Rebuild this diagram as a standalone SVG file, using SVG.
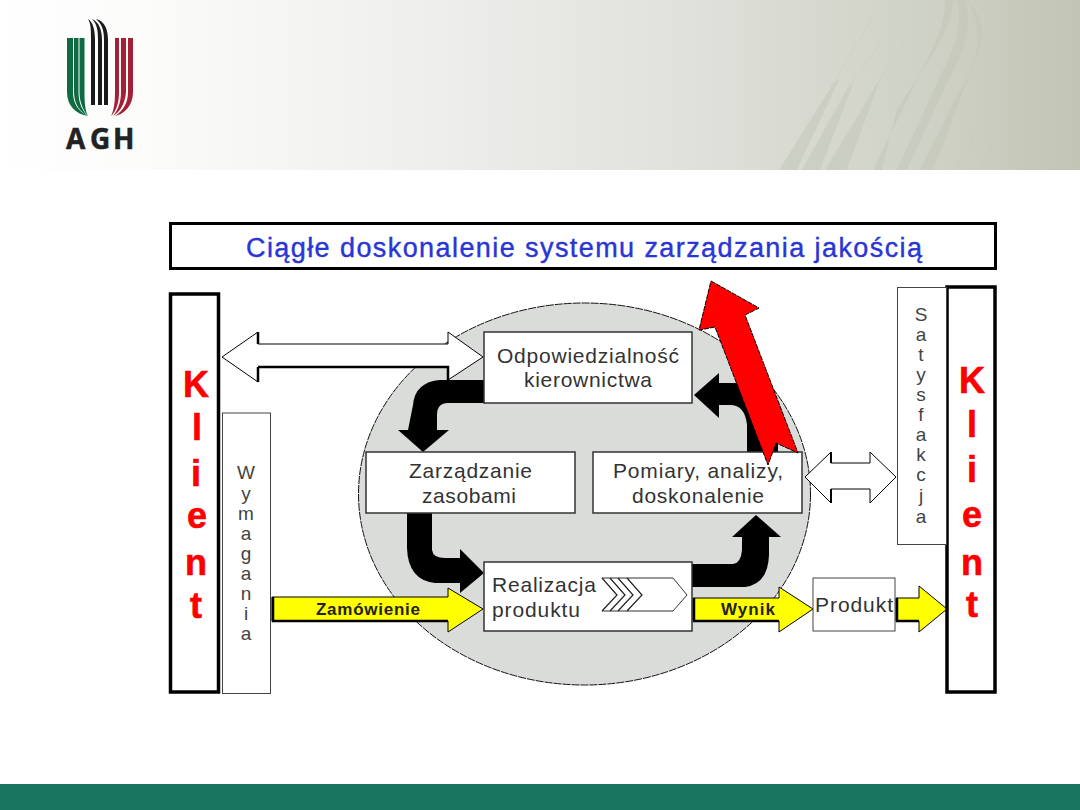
<svg xmlns="http://www.w3.org/2000/svg" width="1080" height="810" viewBox="0 0 1080 810">
<defs>
<linearGradient id="hdr" x1="0" x2="1" y1="0" y2="0"><stop offset="0" stop-color="#ffffff"/><stop offset="0.14" stop-color="#fbfbfa"/><stop offset="0.4" stop-color="#eeefec"/><stop offset="0.65" stop-color="#dfe0da"/><stop offset="0.85" stop-color="#cfd2c6"/><stop offset="1" stop-color="#c2c5b4"/></linearGradient>
</defs>
<style>
text{font-family:"Liberation Sans",Arial,sans-serif}
.box{fill:#fff;stroke:#333;stroke-width:1.5}
.thin{fill:#fff;stroke:#444;stroke-width:1}
.heavy{fill:#fff;stroke:#000;stroke-width:3.500}
.t{font-size:21px;fill:#333;text-anchor:start}
.k{font-size:36px;font-weight:700;fill:#f00;stroke:#f00;stroke-width:0.6;text-anchor:middle}
.v{font-size:19px;fill:#444;text-anchor:middle}
.y{fill:#ff0;stroke:#000;stroke-width:1}
.yb{fill:none;stroke:#000;stroke-width:2.500}
.w{fill:#fff;stroke:#000;stroke-width:1}
.bh{fill:#000}
.l{font-size:17px;font-weight:700;fill:#222;text-anchor:start}
.green{fill:#0f6b42}.black{fill:#1a1a1a}.red{fill:#a51f36}
.sw{fill:#c3c6ba;opacity:.55}
.sl{fill:none;stroke:#c3c6ba;stroke-width:1}
</style>
<rect width="1080" height="170" fill="url(#hdr)"/>
<g id="swoosh" transform="translate(700 0) scale(0.3333)">
<path class="sw" d="M520 510L680 180C720 110 735 50 735 0H760C755 60 730 110 700 160L590 330 L545 510Z"/>
<path class="sw" d="M590 510L720 230C770 140 790 60 770 0H795C815 60 800 140 760 210L620 510Z"/>
<path class="sw" d="M660 510L760 310C820 210 870 110 800 0C850 50 860 110 825 180L700 510Z"/>
<path class="sw" d="M237 510L400 250L420 235L290 510Z"/>
<path class="sw" d="M305 510L440 270L460 250L360 510Z"/>
<path class="sw" d="M375 510L520 270L540 240L440 510Z"/>
<path class="sl" d="M400 250L520 50M440 270L550 120M520 270L610 130M770 510L875 310M840 510L940 320M905 510L990 350"/>
</g>
<g id="logo">
<path class="green" d="M67 38H73V92C73 104 79 112 88 116C76 114 67 106 67 92Z"/>
<path class="green" d="M74 38H78.500V92C78.500 102 82 111 88 116C80 112 74 104 74 92Z"/>
<path class="green" d="M79.500 38H84.500V92C84.500 102 85 110 88 116C83 110 79.500 102 79.500 92Z"/>
<path class="black" d="M88 19C93 22 95 30 95 40V105H91V40C91 30 91 24 88 19Z"/>
<path class="black" d="M92 19C99 22 102 30 102 40V105H98V40C98 30 97 24 92 19Z"/>
<path class="black" d="M96 19C105 21 108 30 108 40V105H104V40C104 30 102 24 96 19Z"/>
<path class="red" d="M115 38H119V92C119 102 117 110 111 116C114 110 115 102 115 92Z"/>
<path class="red" d="M121 38H126V92C125 104 120 112 113 116C118 110 121 102 121 92Z"/>
<path class="red" d="M128 38H133V92C133 106 124 114 115 116C124 110 128 102 128 92Z"/>
<text y="149" font-size="28" font-weight="700" fill="#222" stroke="#222" stroke-width="0.5" style="font-family:'Open Sans','Liberation Sans',sans-serif"><tspan x="66">A</tspan><tspan x="90">G</tspan><tspan x="113">H</tspan></text>
</g>
<rect y="784" width="1080" height="26" fill="#1a7560"/>
<g id="title"><rect x="170.500" y="223.500" width="825" height="45" fill="#fff" stroke="#000" stroke-width="3"/>
<text x="246" y="257" font-size="27" fill="#2a35d6" stroke="#2a35d6" stroke-width="0.4" textLength="676" lengthAdjust="spacing">Ciągłe doskonalenie systemu zarządzania jakością</text></g>
<ellipse id="circle" cx="584.500" cy="494" rx="226" ry="191" fill="#d9dcd9" stroke="#111" stroke-width="1" stroke-dasharray="8 1"/>
<g id="connectors">
<path class="bh" d="M484 380H440Q415 382 413 405L408 430H398L423 452L449 430H437V415Q437 403 448 403H484Z"/>
<path class="bh" d="M407 513H432V550Q433 558 445 558H460V549L484 573L460 593V583H435Q408 580 407 548Z"/>
<path class="bh" d="M692 564H733Q741 563 742 550V537H732L756 515L781 537H769V555Q768 584 745 587H692Z"/>
<path class="bh" d="M694 395L719 373V383H745Q775 390 778 430V452H747V425Q745 405 730 405H719V418Z"/>
<path class="w" d="M222 357L258 332V344H448V332L483 357L448 380V367H258V382Z"/>
<path d="M258 332V344M258 367V382M258 367H448V380" stroke="#000" stroke-width="2.500" fill="none"/>
<path class="w" d="M805 477L831 452V463H870V452L896 477L870 503V489H831V503Z"/>
<path d="M831 452V463M831 489V503" stroke="#000" stroke-width="2" fill="none"/>
<path class="y" d="M272 597H448V588L483 609L448 632V621H272Z"/>
<path class="yb" d="M273 597V621H448"/>
<path class="y" d="M693 598H779V587L813 609L779 632V621H693Z"/>
<path class="yb" d="M694 598V621H779"/>
<path class="y" d="M896 598H919V586L947 609L919 632V621H896Z"/>
<path class="yb" d="M897 598V621H919"/>
</g>
<g id="klient-left"><rect class="heavy" x="170.500" y="294" width="48" height="398"/>
<text class="k" x="196" y="397">K</text><text class="k" x="197" y="440">l</text><text class="k" x="196" y="486">i</text><text class="k" x="197" y="528">e</text><text class="k" x="196" y="575">n</text><text class="k" x="196" y="618">t</text></g>
<g id="wymagania"><rect class="thin" x="222.500" y="413" width="48" height="280.500"/>
<text class="v" x="246" y="479">W</text><text class="v" x="246" y="500">y</text><text class="v" x="246" y="520">m</text><text class="v" x="246" y="540">a</text><text class="v" x="246" y="560">g</text><text class="v" x="246" y="580">a</text><text class="v" x="246" y="600">n</text><text class="v" x="246" y="620">i</text><text class="v" x="246" y="640">a</text></g>
<g id="klient-right"><rect class="heavy" x="947" y="287" width="48" height="405"/>
<text class="k" x="972" y="393">K</text><text class="k" x="972" y="437">l</text><text class="k" x="972" y="482">i</text><text class="k" x="972" y="527">e</text><text class="k" x="972" y="575">n</text><text class="k" x="972" y="617">t</text></g>
<g id="satysfakcja"><rect class="thin" x="897.500" y="287.500" width="49" height="257"/>
<text class="v" x="921" y="321">S</text><text class="v" x="921" y="341">a</text><text class="v" x="921" y="361">t</text><text class="v" x="921" y="381">y</text><text class="v" x="921" y="401">s</text><text class="v" x="921" y="421">f</text><text class="v" x="921" y="441">a</text><text class="v" x="921" y="461">k</text><text class="v" x="921" y="481">c</text><text class="v" x="921" y="502">j</text><text class="v" x="921" y="523">a</text></g>
<g id="odpowiedzialnosc"><rect class="box" x="484" y="332" width="208" height="71"/><text class="t" x="497" y="363" textLength="182">Odpowiedzialność</text><text class="t" x="524" y="387" textLength="128">kierownictwa</text></g>
<g id="zarzadzanie"><rect class="box" x="366" y="452" width="209" height="61"/><text class="t" x="409" y="478" textLength="123">Zarządzanie</text><text class="t" x="422" y="503" textLength="94">zasobami</text></g>
<g id="pomiary"><rect class="box" x="593" y="452" width="209" height="61"/><text class="t" x="613" y="478" textLength="170">Pomiary, analizy,</text><text class="t" x="632" y="503" textLength="132">doskonalenie</text></g>
<g id="realizacja"><rect class="box" x="484" y="562" width="208" height="69"/>
<text class="t" x="492" y="592" textLength="104">Realizacja</text><text class="t" x="492" y="617" textLength="88">produktu</text>
<path d="M602 578H673L687 595L673 611H602" fill="none" stroke="#333" stroke-width="1"/>
<path d="M602 578L617 595L602 611M610 578L625 595L610 611M618 578L633 595L618 611M627 578L642 595L627 611" fill="none" stroke="#222" stroke-width="1.200"/></g>
<text class="l" x="316" y="615" textLength="104">Zamówienie</text>
<text class="l" x="721" y="615" textLength="54">Wynik</text>
<g id="produkt"><rect class="thin" x="813" y="578" width="82" height="53"/><text class="t" x="815" y="612" textLength="78">Produkt</text></g>
<g id="red-arrow"><path d="M711 281L759 308L745 315L798 453L776 443L768 465L715 327L699 330Z" fill="#f00" stroke="#000" stroke-width="1" stroke-dasharray="5 1"/></g>
</svg>
